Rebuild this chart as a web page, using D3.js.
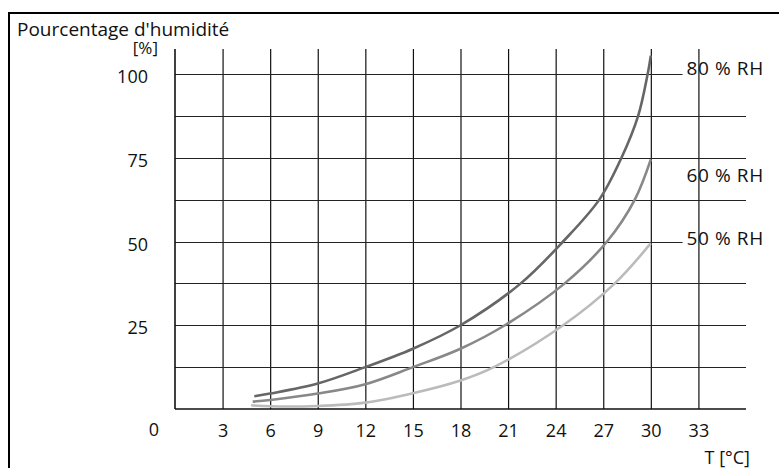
<!DOCTYPE html>
<html><head><meta charset="utf-8">
<script src="https://cdn.jsdelivr.net/npm/d3@7"></script>
<style>
html,body{margin:0;padding:0;background:#fff;}
svg{display:block;}
text{font-family:"Open Sans",sans-serif;fill:#111;}
</style></head>
<body>
<svg id="c" width="779" height="468"></svg>
<script>
// ---- data ----
const xTicks = [3,6,9,12,15,18,21,24,27,30,33];
const yTicks = [25,50,75,100];
const yGrid = [12.5,25,37.5,50,62.5,75,87.5,100];
const seriesNames = ["80 % RH","60 % RH","50 % RH"];
const t80 = [5,6,9,12,15,18,21.8,24.47,26.75,28.15,29.2,29.8,30];
const v80 = [3.8,4.6,7.6,12.5,18,25,37.5,50,62.5,75,87.5,100,105.5];
const t60 = [4.9,6,9,12,15,18,20.8,24.57,27.24,28.99,30];
const v60 = [2.2,2.7,4.6,7.4,12.5,18,25,37.5,50,62.5,74.5];
const t50 = [4.8,6,9,12,15,18,20.1,24.47,27.73,30];
const v50 = [1.1,0.8,0.9,1.9,4.7,8.5,12.5,25,37.5,49.5];
const titleText = "Pourcentage d'humidité";
const yUnit = "[%]";
const xTitle = "T [°C]";
const zeroLabel = "0";

// ---- drawing ----
const svg = d3.select("#c");
const x = d3.scaleLinear().domain([0,36]).range([175,746]);
const y = d3.scaleLinear().domain([0,100]).range([409,74]);
const yTop = 107.5;
const FS = 18;

// frame (top + left)
svg.append("line").attr("x1",9).attr("x2",779).attr("y1",13).attr("y2",13).attr("stroke","#000").attr("stroke-width",2);
svg.append("line").attr("x1",9).attr("x2",9).attr("y1",12).attr("y2",468).attr("stroke","#000").attr("stroke-width",2);

// vertical grid lines via axis
const gx = svg.append("g").attr("transform",`translate(0,${y(0)})`)
  .call(d3.axisBottom(x).tickValues(xTicks).tickSize(-(y(0)-y(yTop))));
gx.select(".domain").remove();
gx.selectAll(".tick line").attr("stroke","#111").attr("stroke-width",1.2);
gx.selectAll(".tick text").attr("font-size",FS).attr("font-family","Open Sans").attr("fill","#111")
  .attr("y",28).attr("dy",0);

// horizontal grid lines
const labelBreak = [100,50];
svg.append("g").selectAll("line").data(yGrid).join("line")
  .attr("x1",x(0)).attr("x2",d => labelBreak.includes(d) ? x(32.0) : x(36))
  .attr("y1",d=>Math.round(y(d))+0.5).attr("y2",d=>Math.round(y(d))+0.5)
  .attr("stroke","#222").attr("stroke-width",1.1);

// y axis labels
const gy = svg.append("g").attr("transform",`translate(148,0)`)
  .call(d3.axisLeft(y).tickValues(yTicks).tickSize(0).tickPadding(0));
gy.select(".domain").remove();
gy.selectAll(".tick text").attr("font-size",FS).attr("font-family","Open Sans").attr("fill","#111").attr("dy",8.5);

// axis lines
svg.append("line").attr("x1",x(0)).attr("x2",x(0)).attr("y1",y(yTop)).attr("y2",y(0)).attr("stroke","#111").attr("stroke-width",1.6);
svg.append("line").attr("x1",x(0)).attr("x2",x(36)).attr("y1",y(0)).attr("y2",y(0)).attr("stroke","#111").attr("stroke-width",1.6);

// curves
const series = [
  {t:t80, v:v80, color:"#666666"},
  {t:t60, v:v60, color:"#888888"},
  {t:t50, v:v50, color:"#bbbbbb"}
];
const line = d3.line().x(d=>x(d[0])).y(d=>y(d[1])).curve(d3.curveCatmullRom.alpha(0.5));
svg.append("g").selectAll("path").data(series).join("path")
  .attr("d",s => line(s.t.map((t,i)=>[t,s.v[i]])))
  .attr("fill","none").attr("stroke",s=>s.color).attr("stroke-width",2.6);

// series labels
const labelAt = [100.9,69,50.1];
svg.append("g").selectAll("text").data(seriesNames).join("text")
  .attr("x",x(32.25)).attr("y",(d,i)=>y(labelAt[i])).attr("dy",4)
  .attr("font-size",19).attr("letter-spacing",0.6).text(d=>d);

// texts
svg.append("text").attr("x",17).attr("y",36).attr("font-size",19).text(titleText);
svg.append("text").attr("x",158).attr("y",54).attr("text-anchor","end").attr("font-size",17).text(yUnit);
svg.append("text").attr("x",154).attr("y",436).attr("text-anchor","middle").attr("font-size",FS).text(zeroLabel);
svg.append("text").attr("x",750).attr("y",464).attr("text-anchor","end").attr("font-size",FS).text(xTitle);
</script>
</body></html>
